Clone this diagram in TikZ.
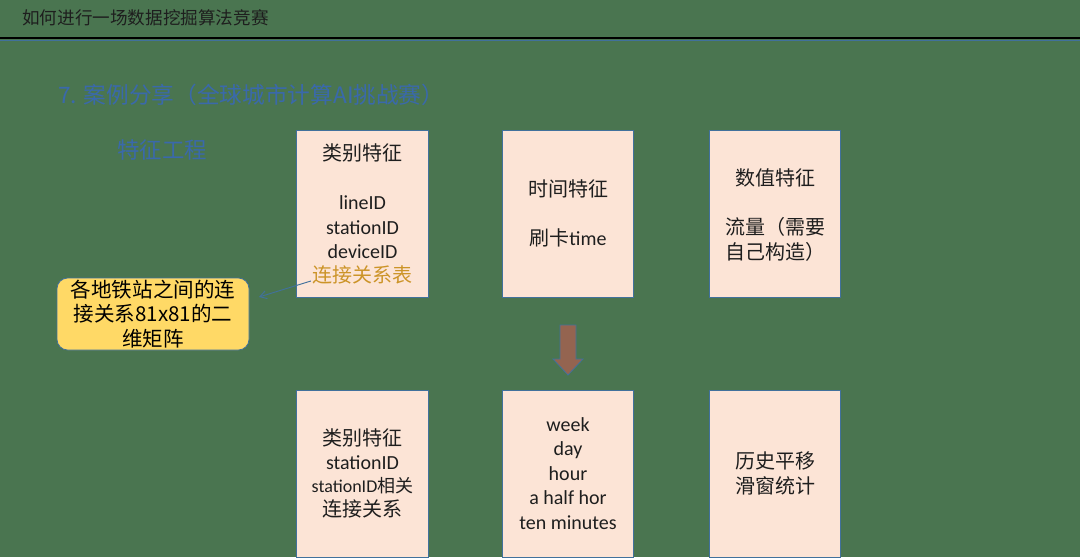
\documentclass[tikz,border=0pt]{standalone}
\usepackage{fontspec}
\setmainfont{Carlito}
\newfontfamily\cjk{Noto Sans CJK SC}
\usetikzlibrary{arrows.meta}
\definecolor{bg}{RGB}{74,117,80}
\definecolor{boxfill}{HTML}{FCE4D6}
\definecolor{boxline}{HTML}{41719C}
\definecolor{headblue}{HTML}{3A69AB}
\definecolor{noteyellow}{HTML}{FFD966}
\definecolor{linkgold}{HTML}{CC9428}
\definecolor{arrowbrown}{HTML}{946450}
\definecolor{txt}{HTML}{1E1E1E}
\tikzset{
  fbox/.style={draw=boxline, line width=0.6pt, fill=boxfill, inner sep=0pt,
    minimum width=98.5pt, minimum height=125.25pt},
  btxt/.style={align=center, text=txt, inner sep=0pt,
    font=\fontsize{15pt}{18.4pt}\selectfont},
  note/.style={draw=boxline, line width=0.6pt, fill=noteyellow, rounded corners=8pt,
    minimum width=144pt, minimum height=54pt, inner sep=0pt, align=center, text=black,
    font=\fontsize{15.4pt}{18.4pt}\selectfont\cjk},
  conn/.style={draw=boxline, line width=0.7pt, -{Straight Barb[length=5pt,width=6pt]}},
}
\begin{document}
\begin{tikzpicture}[x=0.75pt,y=-0.75pt]
\fill[bg] (0,0) rectangle (1080,557);
\clip (0,0) rectangle (1080,557);

% page header
\node[anchor=west, text=txt, inner sep=0pt, font=\fontsize{13.2pt}{16pt}\selectfont\cjk]
  (title) at (22,18) {如何进行一场数据挖掘算法竞赛};
\draw[black, line width=1.8pt] (0,38.2) -- (1080,38.2);
\draw[boxline, line width=0.6pt] (0,40) -- (1080,40);

% section headings
\node[anchor=west, text=headblue, inner sep=0pt, font=\fontsize{17pt}{20pt}\selectfont\cjk]
  (sec) at (58,95) {7. 案例分享（全球城市计算AI挑战赛）};
\node[anchor=west, text=headblue, inner sep=0pt, font=\fontsize{16.8pt}{20pt}\selectfont\cjk]
  (fe) at (117,150) {特征工程};

% feature boxes, upper row
\node[fbox] (b1) at (362.5,213.5) {};
\node[fbox] (b2) at (568,213.5) {};
\node[fbox] (b3) at (775,213.5) {};
\node[btxt] (t1) at (362.5,201.5) {{\cjk 类别特征}\\[18.4pt]lineID\\stationID\\deviceID};
\node[btxt, text=linkgold, font=\fontsize{15pt}{18.4pt}\selectfont\cjk] (lk) at (362.5,275) {连接关系表};
\node[btxt] (t2) at (b2) {{\cjk 时间特征}\\[18.4pt]{\cjk 刷卡}time};
\node[btxt] (t3) at (775,215) {{\cjk 数值特征}\\[18.4pt]{\cjk 流量（需要}\\{\cjk 自己构造）}};

% feature boxes, lower row
\node[fbox] (b4) at (362.5,473.5) {};
\node[fbox] (b5) at (568,473.5) {};
\node[fbox] (b6) at (775,473.5) {};
\node[btxt, font=\fontsize{15pt}{17.8pt}\selectfont] (t4) at (b4)
  {{\cjk 类别特征}\\stationID\\{\fontsize{13.5pt}{17.8pt}\selectfont stationID\cjk 相关}\\{\cjk 连接关系}};
\node[btxt] (t5) at (b5) {week\\day\\hour\\a half hor\\ten minutes};
\node[btxt, font=\fontsize{15pt}{18.4pt}\selectfont\cjk] (t6) at (b6) {历史平移\\滑窗统计};

% transition arrow between rows
\draw[boxline, line width=0.6pt, fill=arrowbrown]
  (560,325) -- (576,325) -- (576,359) -- (583,359) -- (568,375) -- (553,359) -- (560,359) -- cycle;

% note on the station link table
\node[note] (nt) at (153,314) {\rule{0pt}{0pt}\raisebox{-1.5pt}{各地铁站之间的连}\\\raisebox{-1.5pt}{接关系81x81的二}\\\raisebox{-1.5pt}{维矩阵}};
\coordinate (tip) at (259,297);
\draw[conn] ([xshift=-1pt,yshift=-4.5pt]lk.west) -- (tip);
\end{tikzpicture}
\end{document}
